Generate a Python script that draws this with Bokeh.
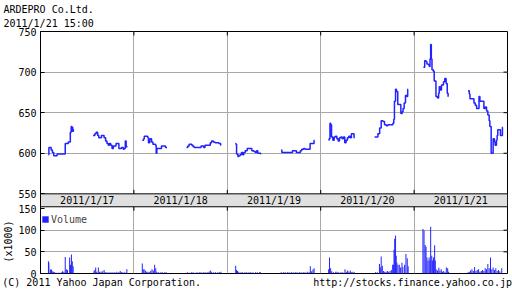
import math
from bokeh.plotting import figure
from bokeh.models import Range1d, FixedTicker, LinearAxis, Legend, LegendItem, Title
from bokeh.core.properties import value
from bokeh.embed import file_html
from bokeh.resources import INLINE

# ---------------- texts ----------------
title_name = "ARDEPRO Co.Ltd."
title_time = "2011/1/21 15:00"
copyright_text = "(C) 2011 Yahoo Japan Corporation."
source_text = "http://stocks.finance.yahoo.co.jp"
volume_unit = "(x1000)"
dates = ["2011/1/17", "2011/1/18", "2011/1/19", "2011/1/20", "2011/1/21"]
price_ticks = [550, 600, 650, 700, 750]
volume_ticks = [0, 50, 100, 150]

# ---------------- price data (minutes after 9:00, yen) ----------------
d1_am_t = [0, 2, 12, 18, 24, 39, 76, 90, 99, 103, 106, 108, 110, 113, 115]
d1_am_p = [598, 607, 604, 601, 597, 599, 612, 614, 626, 633, 627, 632, 627, 629, 629]
d1_pm_t = [202, 210, 216, 223, 228, 240, 252, 259, 265, 271, 276, 282, 288, 294, 306, 319, 331, 339, 343, 348, 352, 358]
d1_pm_p = [622, 624, 626, 622, 619, 622, 619, 615, 612, 610, 612, 610, 606, 609, 612, 606, 607, 605, 606, 615, 608, 608]

d2_am_t = [2, 8, 11, 27, 30, 36, 44, 50, 62, 65, 68, 89, 107, 114]
d2_am_p = [616, 618, 621, 619, 613, 618, 614, 611, 610, 600, 606, 609, 607, 607]
d2_pm_t = [202, 208, 214, 226, 232, 238, 268, 280, 286, 310, 316, 324, 331, 349, 357, 358]
d2_pm_p = [607, 609, 611, 610, 608, 607, 609, 607, 610, 613, 615, 614, 613, 612, 610, 610]

d3_am_t = [0, 3, 6, 12, 16, 22, 28, 34, 39, 45, 54, 75, 84, 91, 97, 102, 115, 116]
d3_am_p = [612, 611, 599, 596, 597, 598, 601, 598, 601, 603, 606, 603, 602, 601, 603, 600, 599, 599]
d3_pm_t = [208, 211, 259, 277, 295, 301, 310, 316, 339, 357, 358]
d3_pm_p = [604, 601, 603, 601, 603, 605, 606, 605, 612, 616, 616]

d4_am_t = [0, 2, 6, 9, 13, 19, 25, 31, 37, 43, 49, 55, 61, 67, 73, 79, 85, 91, 97, 103, 115, 118]
d4_am_p = [616, 618, 637, 635, 620, 616, 620, 621, 618, 615, 619, 620, 618, 620, 613, 616, 619, 621, 619, 624, 619, 619]
d4_pm_t = [208, 223, 231, 238, 246, 253, 261, 268, 291, 295, 298, 303, 307, 313, 324, 327, 333, 337, 342, 348, 354, 358, 359]
d4_pm_p = [620, 624, 631, 640, 639, 635, 634, 635, 637, 642, 664, 679, 676, 660, 660, 649, 651, 655, 662, 671, 670, 679, 679]

d5_am_t = [6, 12, 18, 22, 28, 33, 36, 39, 42, 45, 51, 55, 63, 70, 75, 78, 82, 88, 97, 103, 109, 114, 118, 119]
d5_am_p = [706, 714, 713, 710, 709, 707, 716, 734, 716, 703, 701, 689, 670, 668, 674, 682, 678, 684, 688, 692, 686, 674, 670, 670]
d5_pm_t = [208, 214, 217, 235, 241, 247, 258, 262, 280, 286, 292, 298, 304, 307, 313, 322, 328, 331, 337, 340, 343, 355, 364, 365]
d5_pm_p = [677, 673, 667, 662, 659, 655, 670, 664, 655, 657, 652, 647, 640, 633, 600, 618, 614, 610, 616, 622, 629, 622, 632, 632]

# ---------------- volume data (minutes after 9:00, x1000 shares) ----------------
v1_t = [0, 2, 9, 14, 17, 22, 27, 32, 38, 45, 52, 60, 64, 70, 76, 81, 86, 96, 100, 104, 108, 112,
        206, 210, 214, 219, 226, 232, 238, 244, 252, 258, 265, 274, 283, 292, 301, 310, 319, 325, 331, 337, 346, 355]
v1_v = [28, 25, 9, 9, 5, 4, 3, 2, 2, 2, 2, 3, 5, 4, 38, 10, 8, 37, 20, 44, 28, 17,
        5, 8, 14, 4, 14, 4, 4, 5, 8, 3, 3, 3, 3, 3, 3, 4, 3, 6, 3, 3, 3, 10]
v2_t = [2, 6, 10, 16, 22, 28, 34, 40, 46, 52, 58, 63, 68, 76, 86, 94, 104, 110,
        206, 214, 224, 232, 242, 250, 260, 268, 278, 286, 296, 304, 310, 316, 326, 334, 344, 352, 358]
v2_v = [23, 9, 10, 7, 4, 4, 3, 6, 10, 7, 20, 12, 4, 3, 3, 3, 3, 3,
        3, 2, 3, 3, 2, 3, 3, 3, 3, 3, 3, 4, 7, 4, 3, 3, 3, 3, 4]
v3_t = [2, 6, 10, 16, 26, 34, 44, 52, 62, 70, 80, 92, 100, 110, 114,
        208, 218, 226, 236, 244, 254, 262, 272, 280, 290, 298, 308, 316, 326, 334, 340, 346, 352, 357]
v3_v = [18, 8, 6, 4, 3, 3, 3, 3, 3, 3, 3, 3, 3, 3, 3,
        3, 3, 3, 3, 3, 3, 3, 3, 3, 3, 3, 3, 3, 4, 3, 17, 5, 9, 12]
v4_t = [0, 4, 9, 14, 22, 32, 38, 46, 56, 64, 74, 80, 86, 92, 98, 104, 110, 116,
        212, 220, 230, 234, 238, 243, 248, 254, 260, 266, 272, 278, 284, 290, 293, 296, 299, 303, 306, 309,
        314, 320, 326, 332, 336, 344, 350, 356, 360]
v4_v = [10, 37, 12, 5, 3, 4, 4, 3, 3, 3, 10, 4, 7, 4, 7, 3, 4, 3,
        3, 3, 22, 14, 39, 18, 6, 4, 4, 6, 4, 6, 8, 20, 20, 55, 80, 88, 41, 25,
        20, 20, 14, 25, 15, 20, 45, 35, 17]
v5_t = [4, 9, 14, 18, 22, 27, 32, 36, 39, 44, 48, 52, 57, 60, 64, 70, 76, 81, 87, 92, 98, 104, 110, 116, 120,
        208, 214, 220, 226, 232, 238, 244, 250, 256, 262, 268, 274, 280, 286, 292, 298, 304, 310, 316, 322,
        328, 334, 340, 346, 352, 361]
v5_v = [103, 99, 66, 62, 37, 30, 37, 30, 108, 41, 30, 37, 65, 30, 10, 7, 13, 7, 10, 4, 6, 3, 14, 12, 4,
        3, 4, 7, 10, 6, 15, 6, 8, 10, 4, 6, 8, 6, 12, 10, 22, 12, 37, 10, 14,
        8, 12, 6, 8, 5, 12]

sessions = [
    (0, d1_am_t, d1_am_p), (0, d1_pm_t, d1_pm_p),
    (1, d2_am_t, d2_am_p), (1, d2_pm_t, d2_pm_p),
    (2, d3_am_t, d3_am_p), (2, d3_pm_t, d3_pm_p),
    (3, d4_am_t, d4_am_p), (3, d4_pm_t, d4_pm_p),
    (4, d5_am_t, d5_am_p), (4, d5_pm_t, d5_pm_p),
]
volumes = [(0, v1_t, v1_v), (1, v2_t, v2_v), (2, v3_t, v3_v), (3, v4_t, v4_v), (4, v5_t, v5_v)]

# ---------------- layout constants ----------------
W, H = 512, 301
FL, FR, FT, FB = 37, 507, 30, 273          # frame edges in pixels
DAY = 423.0                                # minutes shown per day column
OPEN = 36.0                                # 9:00 offset inside a day column
XMAX = 5 * DAY
XPX = (FR - FL) / XMAX
PPX = 163 / 200.0                          # price pixels per yen
P_LOW = 750 - (FB - FT) / PPX
VPX = 0.435                                # volume pixels per 1000 shares
V_TOP = (FB - FT) / VPX
P_BAND_BOT = 750 - (206 - FT) / PPX
UNIT_POS = 74                              # where the unit text sits, volume scale
TICK = 4

BLUE = "#2222ff"
GRID = "#a8a8a8"
FONT = "DejaVu Sans Mono"
FS = "10px"


def vp(v):
    return P_LOW + v * VPX / PPX


def dx(px):
    return (px - FL) / XPX


bounds = [DAY * i for i in range(1, 5)]

p = figure(width=W, height=H, x_range=Range1d(0, XMAX), y_range=Range1d(P_LOW, 750),
           x_axis_location="below", toolbar_location=None, output_backend="svg",
           min_border_left=FL, min_border_right=W - FR, min_border_top=FT, min_border_bottom=H - FB)
p.extra_y_ranges = {"vol": Range1d(0, V_TOP)}
p.outline_line_color = "black"
p.outline_line_alpha = 1
p.background_fill_color = "white"
p.border_fill_color = "white"

# header (two lines, left aligned at the page edge)
p.title = Title(text=title_name + "\n" + title_time, align="left", offset=-FL, standoff=4,
                text_font=FONT, text_font_size=FS, text_font_style="normal", text_color="black",
                text_line_height=1.3)

# footer texts carried by the bottom axis labels
foot_pos = [dx(98.5), dx(411.5)]
xa = p.xaxis[0]
xa.ticker = FixedTicker(ticks=foot_pos)
xa.major_label_overrides = {foot_pos[0]: copyright_text, foot_pos[1]: source_text}
xa.major_tick_in = 0
xa.major_tick_out = 0
xa.major_tick_line_color = None
xa.minor_tick_line_color = None
xa.axis_line_color = None
xa.major_label_standoff = 3
xa.major_label_text_font = FONT
xa.major_label_text_font_size = FS
xa.major_label_text_color = "black"

# left axis: price ticks and volume ticks on one scale line
ya = p.yaxis[0]
ya.ticker = FixedTicker(ticks=price_ticks + [vp(v) for v in volume_ticks])
overrides = {t: str(t) for t in price_ticks}
overrides.update({vp(v): str(v) for v in volume_ticks})
ya.major_label_overrides = overrides
ya.major_tick_in = TICK
ya.major_tick_out = 0
ya.minor_tick_line_color = None
ya.major_label_standoff = 4
ya.major_label_text_font = FONT
ya.major_label_text_font_size = FS
ya.major_label_text_color = "black"
ya.axis_line_color = "black"
ya.major_tick_line_color = "black"

# unit label of the volume panel, rotated, centred on the volume panel
ua = LinearAxis(y_range_name="vol", ticker=FixedTicker(ticks=[UNIT_POS]),
                major_label_overrides={UNIT_POS: volume_unit}, major_label_orientation="vertical",
                major_label_standoff=1, major_label_text_font=FONT, major_label_text_font_size=FS,
                major_label_text_color="black", axis_line_color=None, major_tick_line_color=None,
                minor_tick_line_color=None, major_tick_in=0, major_tick_out=0)
p.add_layout(ua, "left")

p.xgrid.ticker = FixedTicker(ticks=bounds)
p.ygrid.ticker = FixedTicker(ticks=[600, 650, 700, vp(50), vp(100)])
p.grid.grid_line_color = GRID
p.grid.grid_line_width = 1

# date band
p.quad(left=0, right=XMAX, bottom=P_BAND_BOT, top=550, fill_color="#e0e0e0", line_color="black", line_width=1)
p.text(x=[DAY * (i + 0.5) for i in range(5)], y=[(550 + P_BAND_BOT) / 2] * 5, text=dates,
       text_font=value(FONT), text_font_size=value(FS), text_align="center", text_baseline="middle",
       text_color="black")

# inner tick marks at frame edges and band edges
tp = TICK / PPX
tx = TICK / XPX
p.segment(x0=bounds, y0=[750] * 4, x1=bounds, y1=[750 - tp] * 4, line_color="black", line_width=1)
p.segment(x0=bounds, y0=[550] * 4, x1=bounds, y1=[550 + tp] * 4, line_color="black", line_width=1)
p.segment(x0=bounds, y0=[P_BAND_BOT] * 4, x1=bounds, y1=[P_BAND_BOT - tp] * 4,
          line_color="black", line_width=1)
rt = [600, 650, 700, vp(50), vp(100)]
p.segment(x0=[XMAX - tx] * len(rt), y0=rt, x1=[XMAX] * len(rt), y1=rt, line_color="black", line_width=1)

# price lines
for day, ts, ps in sessions:
    p.step(x=[day * DAY + OPEN + t for t in ts], y=ps, mode="after", line_color=BLUE, line_width=1.5)

# volume bars
bar_renderers = []
for day, ts, vs in volumes:
    r = p.vbar(x=[day * DAY + OPEN + t for t in ts], top=vs, bottom=0, width=1.0 / XPX,
               y_range_name="vol", fill_color=BLUE, line_color=None)
    bar_renderers.append(r)

leg = Legend(items=[LegendItem(label="Volume", renderers=[bar_renderers[0]])], location=(1, 47),
             padding=0, margin=0, spacing=0, glyph_width=8, glyph_height=8, label_height=14,
             label_standoff=2, label_text_font=FONT, label_text_font_size=FS,
             border_line_color=None, background_fill_alpha=0)
p.add_layout(leg)

open("out.html", "w").write(file_html(p, INLINE))
